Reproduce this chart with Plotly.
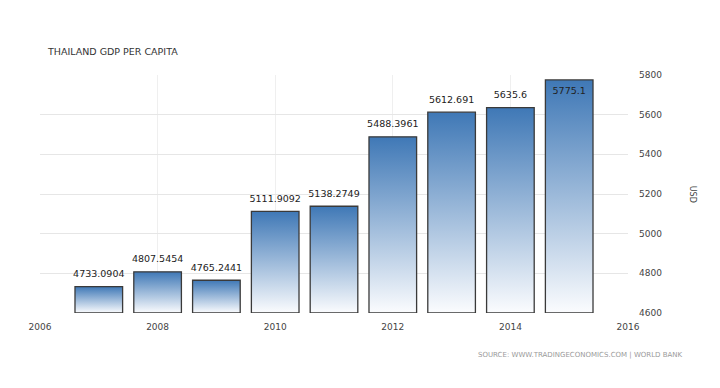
import plotly.graph_objects as go

years = [2007, 2008, 2009, 2010, 2011, 2012, 2013, 2014, 2015]
gdp_per_capita = [4733.0904, 4807.5454, 4765.2441, 5111.9092, 5138.2749,
                  5488.3961, 5612.691, 5635.6, 5775.1]
value_labels = ["4733.0904", "4807.5454", "4765.2441", "5111.9092", "5138.2749",
                "5488.3961", "5612.691", "5635.6", "5775.1"]
x_ticks = [2006, 2008, 2010, 2012, 2014, 2016]
y_ticks = [4600, 4800, 5000, 5200, 5400, 5600, 5800]

Y_MIN, Y_MAX = 4600, 5800
BAR_W = 0.81
FONT = "DejaVu Sans"

fig = go.Figure()

for yr, v in zip(years, gdp_per_capita):
    x0, x1 = yr - BAR_W / 2, yr + BAR_W / 2
    fig.add_trace(go.Scatter(
        x=[x0, x0, x1, x1, x0],
        y=[Y_MIN, v, v, Y_MIN, Y_MIN],
        mode="lines",
        fill="toself",
        fillgradient=dict(type="vertical", start=Y_MIN, stop=v,
                          colorscale=[[0, "#fbfcfe"], [1, "#3f78b6"]]),
        line=dict(color="#3a3a3a", width=1.3),
        hoverinfo="skip",
        showlegend=False,
    ))

positions = ["top center"] * (len(years) - 1) + ["bottom center"]
fig.add_trace(go.Scatter(
    x=years, y=gdp_per_capita, mode="markers+text", text=value_labels,
    textposition=positions,
    marker=dict(size=10, opacity=0),
    textfont=dict(family=FONT, size=9.5, color="#222222"),
    showlegend=False, hoverinfo="skip",
))

fig.update_layout(
    width=720, height=388,
    margin=dict(l=40, r=92, t=75, b=75),
    paper_bgcolor="white", plot_bgcolor="white",
    title=dict(text="THAILAND GDP PER CAPITA", x=48 / 720, xanchor="left",
               y=1 - 52 / 388, yanchor="middle", xref="container", yref="container",
               font=dict(family=FONT, size=9.5, color="#333333")),
    xaxis=dict(range=[2006, 2016], tickvals=x_ticks, ticktext=[str(t) for t in x_ticks],
               showgrid=True, gridcolor="#efefef", gridwidth=1, zeroline=False,
               showline=False, ticks="", ticklabelstandoff=7,
               tickfont=dict(family=FONT, size=9, color="#444444")),
    yaxis=dict(range=[Y_MIN, Y_MAX], side="right", tickvals=y_ticks,
               showgrid=True, gridcolor="#e6e6e6", gridwidth=1, zeroline=False,
               showline=False, ticks="", ticklabelstandoff=10,
               tickfont=dict(family=FONT, size=9, color="#444444")),
    annotations=[
        dict(text="USD", xref="paper", yref="paper", x=1.122, y=0.5, textangle=90,
             showarrow=False, font=dict(family=FONT, size=8, color="#444444")),
        dict(text="SOURCE: WWW.TRADINGECONOMICS.COM | WORLD BANK", xref="paper", yref="paper",
             x=(685 - 40) / 588, y=-42 / 238, xanchor="right", yanchor="middle",
             showarrow=False, font=dict(family=FONT, size=7, color="#9a9a9a")),
    ],
)

fig.write_html("out.html", config={"displayModeBar": False},
               post_script="document.body.style.margin='0';")
